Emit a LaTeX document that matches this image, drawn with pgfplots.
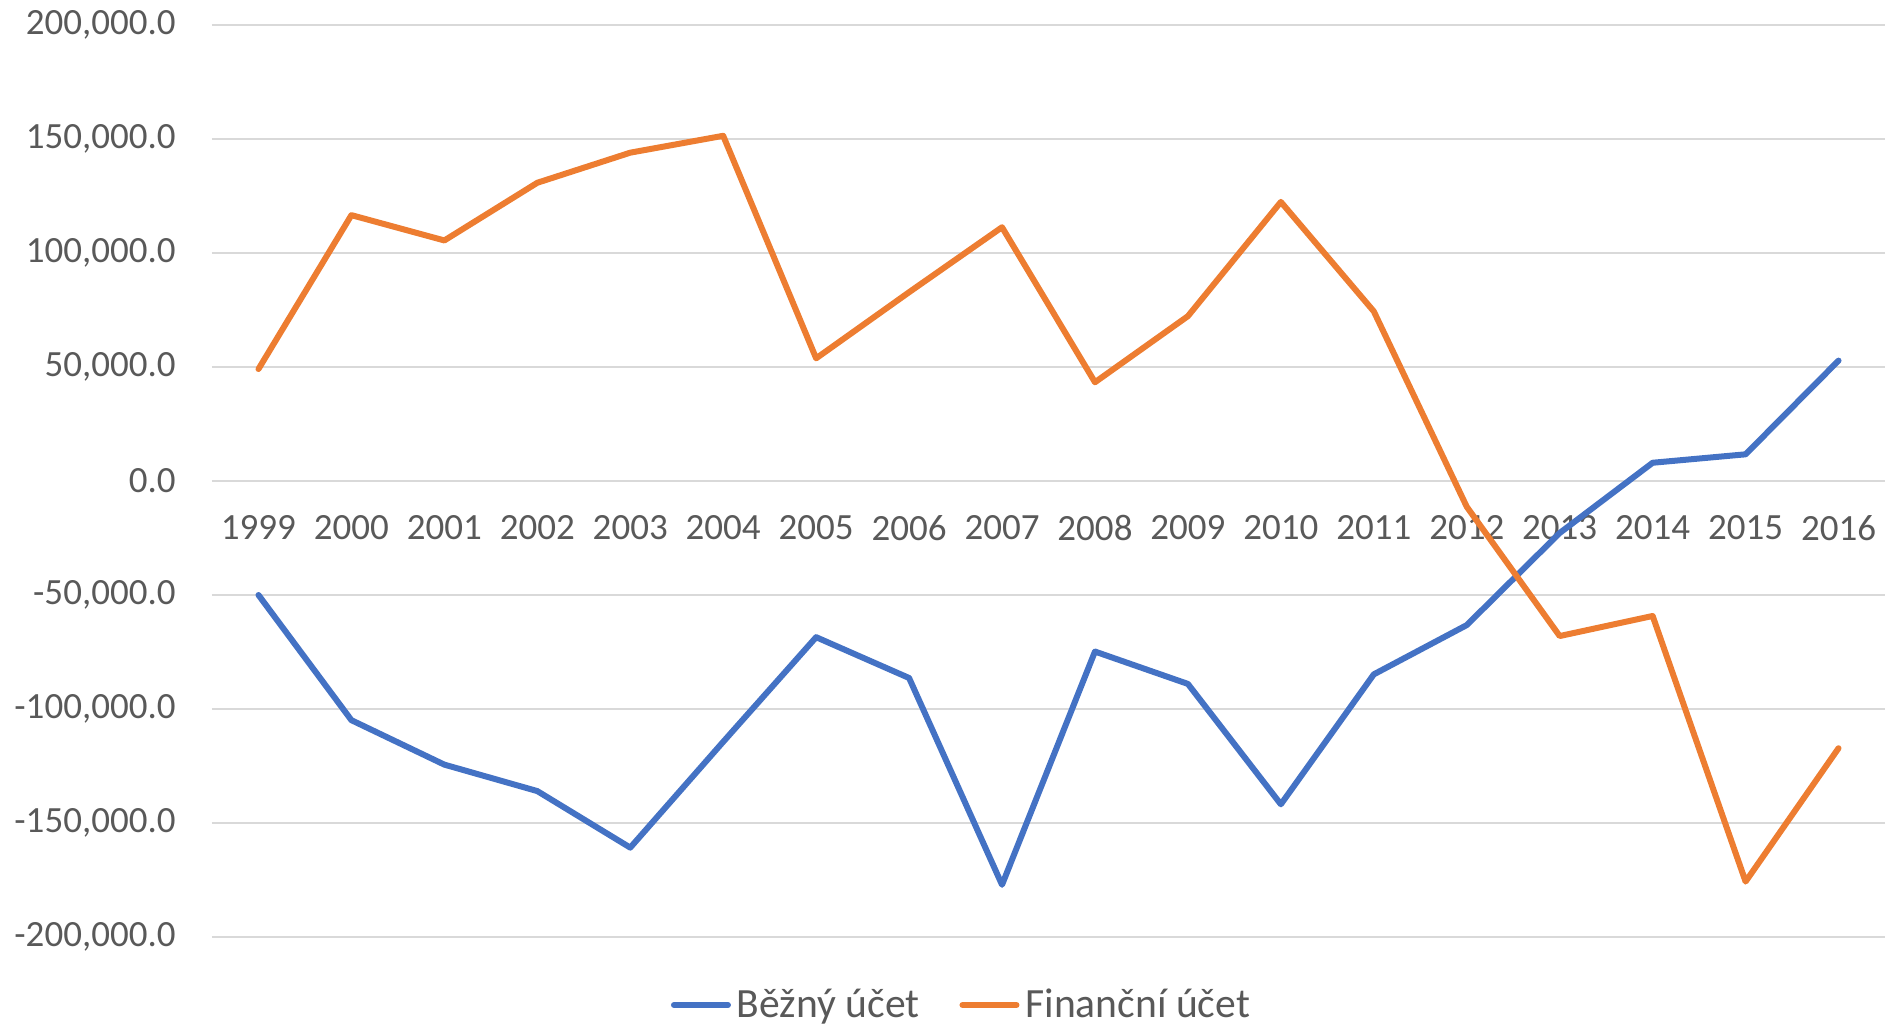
\documentclass[border=0pt]{standalone}
\usepackage{fontspec}
\setmainfont{Carlito}
\usepackage{pgfplots}
\pgfplotsset{compat=1.18}
\definecolor{cblue}{HTML}{4472C4}
\definecolor{corange}{HTML}{ED7D31}
\definecolor{gridc}{HTML}{D9D9D9}
\definecolor{txt}{HTML}{595959}
\begin{document}
\begin{tikzpicture}
\useasboundingbox (-106pt,-45.5pt) rectangle (836.5pt,468.5pt);
\begin{axis}[
  at={(0pt,0pt)}, anchor=south west,
  scale only axis, width=836.5pt, height=456pt,
  xmin=-0.5, xmax=17.5, ymin=-200000, ymax=200000,
  axis x line=middle, axis y line=left,
  axis line style={draw=none,-},
  hide obscured x ticks=false, hide obscured y ticks=false,
  xtick={0,...,17},
  xticklabels={1999,2000,2001,2002,2003,2004,2005,2006,2007,2008,2009,2010,2011,2012,2013,2014,2015,2016},
  ytick={-200000,-150000,-100000,-50000,0,50000,100000,150000,200000},
  ymajorgrids, grid style={gridc, line width=1pt},
  major tick length=0pt, tick style={draw=none},
  tick label style={font=\fontsize{18.5}{22}\selectfont, text=txt},
  yticklabel style={anchor=east, inner sep=0pt, xshift=-18pt},
  xticklabel style={anchor=north, inner sep=0pt, yshift=-17pt},
  scaled y ticks=false,
  yticklabel style={/pgf/number format/.cd, fixed, fixed zerofill, precision=1, 1000 sep={,}, assume math mode=true},
  legend columns=2,
  legend style={at={(0.4474,-0.0746)}, anchor=center, draw=none, fill=none, inner sep=0pt,
    font=\fontsize{20.8}{25}\selectfont, text=txt, nodes={inner sep=0pt},
    /tikz/every odd column/.append style={column sep=3pt},
    /tikz/every even column/.append style={column sep=20pt}},
  legend image code/.code={\draw[#1, line width=3pt, line cap=round] (0pt,0pt) -- (27pt,0pt);},
]
\addplot[cblue, line width=3pt, line join=round, line cap=round] coordinates {
(0,-50000) (1,-104900) (2,-124400) (3,-136000) (4,-160800) (5,-114400)
(6,-68500) (7,-86400) (8,-177100) (9,-74800) (10,-89000) (11,-141800)
(12,-84800) (13,-63200) (14,-22800) (15,8000) (16,11700) (17,52800)};
\addlegendentry{Běžný účet}
\addplot[corange, line width=3pt, line join=round, line cap=round] coordinates {
(0,49100) (1,116600) (2,105500) (3,130800) (4,144000) (5,151400)
(6,53800) (7,82800) (8,111300) (9,43300) (10,72300) (11,122400)
(12,74400) (13,-11300) (14,-68000) (15,-59200) (16,-175700) (17,-117200)};
\addlegendentry{Finanční účet}
\end{axis}
\end{tikzpicture}
\end{document}
